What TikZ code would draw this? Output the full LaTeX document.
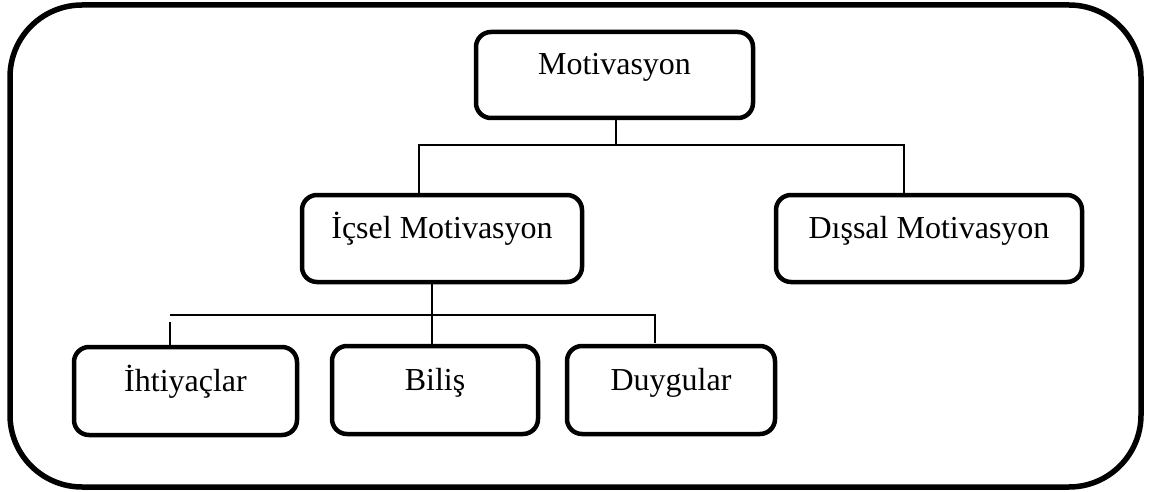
\documentclass[tikz,border=0pt]{standalone}
\usepackage{fontspec}
\setmainfont{Liberation Serif}
\begin{document}
\begin{tikzpicture}[x=1pt, y=-1pt,
  box/.style={draw, line width=4.5pt, rounded corners=15pt, inner sep=0pt,
    text height=11pt, text depth=11pt, font=\fontsize{32}{38}\selectfont},
  link/.style={line width=1.4pt},
  frame/.style={line width=5.5pt, rounded corners=72pt}]
\useasboundingbox (0,0) rectangle (1151,492);
% outer frame
\draw[frame] (10,5) rectangle (1141,487);
% boxes (node centre sits on the text baseline)
\node[box, minimum width=277pt, minimum height=86pt] (mot) at (614.5,75) {Motivasyon};
\node[box, minimum width=280pt, minimum height=87pt] (ic) at (442,238.5) {İçsel Motivasyon};
\node[box, minimum width=306pt, minimum height=87pt] (dis) at (929,238.5) {Dışsal Motivasyon};
\node[box, minimum width=223pt, minimum height=88pt] (iht) at (185.5,391) {İhtiyaçlar};
\node[box, minimum width=206pt, minimum height=88pt] (bil) at (435,390) {Biliş};
\node[box, minimum width=208pt, minimum height=88pt] (duy) at (671,390) {Duygular};
% first level branches
\coordinate (j1) at (616,145);
\coordinate (l1) at (419,145);
\coordinate (r1) at (904,145);
\draw[line width=2pt] (mot.south -| j1) -- (j1);
\draw[link] (ic.north -| l1) -- (l1) -- (r1) -- (dis.north -| r1);
% second level branches
\coordinate (j2) at (432,315);
\coordinate (l2) at (170,315);
\coordinate (r2) at (655,315);
\coordinate (lt) at (170,322);
\coordinate (me) at (432,344);
\coordinate (re) at (655,343);
\draw[link] (ic.south -| j2) -- (me);
\draw[link] (l2) -- (r2) -- (re);
\draw[link] (lt) -- (iht.north -| lt);
\end{tikzpicture}
\end{document}
